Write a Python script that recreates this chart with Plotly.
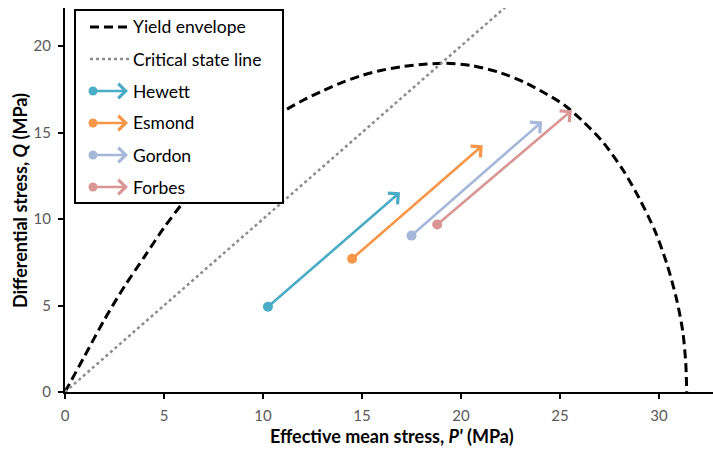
import plotly.graph_objects as go

# ---- data ----
env_p = [0, 1, 2, 3, 4, 5, 6, 7, 8, 9, 10, 11, 12, 13, 14, 15, 16, 17, 18, 19.2,
         20.5, 22.0, 23.2, 24.2, 25.2, 26.2, 27.2, 28.2, 29.0, 29.8, 30.4, 30.9, 31.2, 31.35, 31.4]
env_q = [0, 2.1, 4.2, 6.1, 7.8, 9.5, 11.0, 12.3, 13.5, 14.5, 15.4, 16.2, 16.85, 17.4, 17.9, 18.3, 18.6, 18.8, 18.93, 19.0,
         18.88, 18.45, 17.9, 17.3, 16.6, 15.6, 14.4, 12.8, 11.2, 9.3, 7.4, 5.3, 3.5, 1.7, 0]
csl_p = [0, 22.3]
csl_q = [0, 22.3]

names = ["Hewett", "Esmond", "Gordon", "Forbes"]
start_p = [10.25, 14.5, 17.5, 18.8]
start_q = [4.93, 7.7, 9.04, 9.68]
end_p = [16.92, 21.1, 24.1, 25.6]
end_q = [11.54, 14.26, 15.64, 16.29]
colors = ["#4BACC6", "#F79646", "#A6B8D9", "#D99694"]

x_ticks = [0, 5, 10, 15, 20, 25, 30]
y_ticks = [0, 5, 10, 15, 20]

# ---- figure ----
W, H = 713, 452
ML, MR, MT, MB = 65, 0, 8, 60
PW, PH = W - ML - MR, H - MT - MB

def px2paper(px, py):
    return (px - ML) / PW, (H - MB - py) / PH

fig = go.Figure()

fig.add_trace(go.Scatter(x=env_p, y=env_q, mode="lines",
                         line=dict(color="black", width=3, dash="9px,5px", shape="spline", smoothing=0.8),
                         showlegend=False, hoverinfo="skip"))
fig.add_trace(go.Scatter(x=csl_p, y=csl_q, mode="lines", line=dict(color="#8c8c8c", width=2.5, dash="dot"),
                         showlegend=False, hoverinfo="skip"))

annotations = []
for n, sp, sq, ep, eq, c in zip(names, start_p, start_q, end_p, end_q, colors):
    annotations.append(dict(x=ep, y=eq, ax=sp, ay=sq, xref="x", yref="y", axref="x", ayref="y",
                            showarrow=True, arrowhead=4, arrowsize=1.1, arrowwidth=2.6, arrowcolor=c, text=""))
    fig.add_trace(go.Scatter(x=[sp], y=[sq], mode="markers", marker=dict(color=c, size=10),
                             showlegend=False, hoverinfo="skip"))

shapes = []
# legend box
x0, y0 = px2paper(75, 203)
x1, y1 = px2paper(283, 10)
shapes.append(dict(type="rect", xref="paper", yref="paper", x0=x0, y0=y0, x1=x1, y1=y1,
                   line=dict(color="black", width=2), fillcolor="white", layer="above"))

rows = [27, 59, 91, 123, 155, 187]
labels = ["Yield envelope", "Critical state line"] + names
gx0, gx1, tx = 90, 129, 131
a, b = px2paper(gx0, rows[0]); c2, _ = px2paper(gx1, rows[0])
shapes.append(dict(type="line", xref="paper", yref="paper", x0=a, y0=b, x1=c2, y1=b,
                   line=dict(color="black", width=3, dash="9px,5px"), layer="above"))
a, b = px2paper(gx0, rows[1]); c2, _ = px2paper(gx1, rows[1])
shapes.append(dict(type="line", xref="paper", yref="paper", x0=a, y0=b, x1=c2, y1=b,
                   line=dict(color="#8c8c8c", width=2.5, dash="dot"), layer="above"))
for i, c in enumerate(colors):
    r = rows[i + 2]
    xs, ys = px2paper(gx0 + 3, r)
    xe, _ = px2paper(gx1 - 1, r)
    annotations.append(dict(x=xe, y=ys, xref="paper", yref="paper", ax=-(gx1 - 1 - gx0 - 3), ay=0,
                            showarrow=True, arrowhead=4, arrowsize=1.1, arrowwidth=2.6, arrowcolor=c, text=""))
    shapes.append(dict(type="circle", xref="paper", yref="paper", xsizemode="pixel", ysizemode="pixel",
                       xanchor=xs, yanchor=ys, x0=-4.5, x1=4.5, y0=-4.5, y1=4.5,
                       fillcolor=c, line=dict(color=c, width=0), layer="above"))
for r, lab in zip(rows, labels):
    xt, yt = px2paper(tx, r)
    annotations.append(dict(x=xt, y=yt, xref="paper", yref="paper", text=lab, showarrow=False,
                            xanchor="left", yanchor="middle", font=dict(family="Lato", size=17.5, color="black")))

# axis titles
xt, yt = px2paper(392, 436)
annotations.append(dict(x=xt, y=yt, xref="paper", yref="paper", showarrow=False, xanchor="center", yanchor="middle",
                        text="<b>Effective mean stress, <i>P'</i> (MPa)</b>",
                        font=dict(family="Lato", size=18, color="black")))
xt, yt = px2paper(20, 201)
annotations.append(dict(x=xt, y=yt, xref="paper", yref="paper", showarrow=False, xanchor="center", yanchor="middle",
                        textangle=-90, text="<b>Differential stress, <i>Q</i> (MPa)</b>",
                        font=dict(family="Lato", size=18, color="black")))

axis_common = dict(showgrid=False, zeroline=False, showline=True, linecolor="black", linewidth=2,
                   ticks="outside", ticklen=5, tickwidth=2, tickcolor="black", ticklabelstandoff=4,
                   tickfont=dict(family="Lato", size=15, color="#595959"))

fig.update_layout(
    width=W, height=H, margin=dict(l=ML, r=MR, t=MT, b=MB),
    plot_bgcolor="white", paper_bgcolor="white",
    xaxis=dict(range=[0, PW / 19.8], tickvals=x_ticks, **axis_common),
    yaxis=dict(range=[0, PH / 17.3], tickvals=y_ticks, **axis_common),
    shapes=shapes, annotations=annotations, showlegend=False,
)

fig.write_html("out.html")
